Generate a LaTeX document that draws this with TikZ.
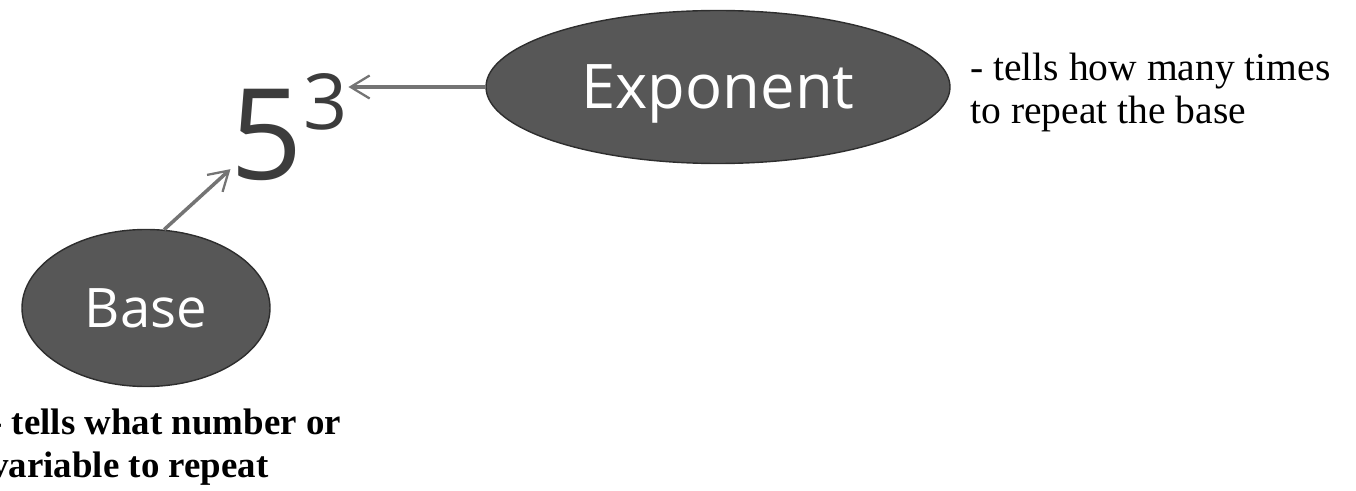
\documentclass[tikz,border=0pt]{standalone}
\usepackage{fontspec}
\setmainfont{Liberation Serif}
\newfontfamily\roundfont{Open Sans}
\usetikzlibrary{positioning,arrows.meta,shapes.geometric}
\definecolor{ovalgray}{HTML}{575757}
\definecolor{ovalrim}{HTML}{2E2E2E}
\definecolor{ptrgray}{HTML}{747474}
\definecolor{powgray}{HTML}{3C3C3C}
\tikzset{
  ovalnode/.style={ellipse,draw=ovalrim,fill=ovalgray,line width=0.8pt,
    inner sep=0pt,text=white,text depth=0pt},
  powtxt/.style={inner sep=0pt,text=powgray,font=\roundfont},
  ptr/.style={-{Straight Barb[length=3.8mm,width=4.6mm,line width=1.3pt]},
    draw=ptrgray,line width=2pt},
  notelbl/.style={align=left,inner sep=0pt,anchor=north west},
}
\begin{document}
\begin{tikzpicture}
  \clip (0,0) rectangle (27.12,-9.82);
  \node[ovalnode,minimum width=9.28cm,minimum height=3.06cm,
    font=\roundfont\fontsize{35}{40}\selectfont] (expo) at (14.36,-1.74) {Exponent};
  \node[ovalnode,minimum width=4.96cm,minimum height=3.14cm,
    font=\roundfont\fontsize{31}{36}\selectfont] (base) at (2.92,-6.16) {Base};
  \node[powtxt,font=\roundfont\fontsize{72}{80}\selectfont] (five) at (5.34,-2.70) {5};
  \node[powtxt,font=\roundfont\fontsize{44}{50}\selectfont] (three) at (6.52,-2.04) {3};
  \draw[ptr] (expo.west) -- (expo.west -| three.east);
  \draw[ptr] (base.77) -- ([yshift=0.24cm]five.south west);
  \node[notelbl,font=\fontsize{22.5}{24.4}\selectfont] (expnote) at (19.4,-1.06)
    {- tells how many times\\to repeat the base};
  \node[notelbl,font=\bfseries\fontsize{21}{24.4}\selectfont] (basenote) at (-0.2,-8.18)
    {- tells what number or\\variable to repeat};
\end{tikzpicture}
\end{document}
